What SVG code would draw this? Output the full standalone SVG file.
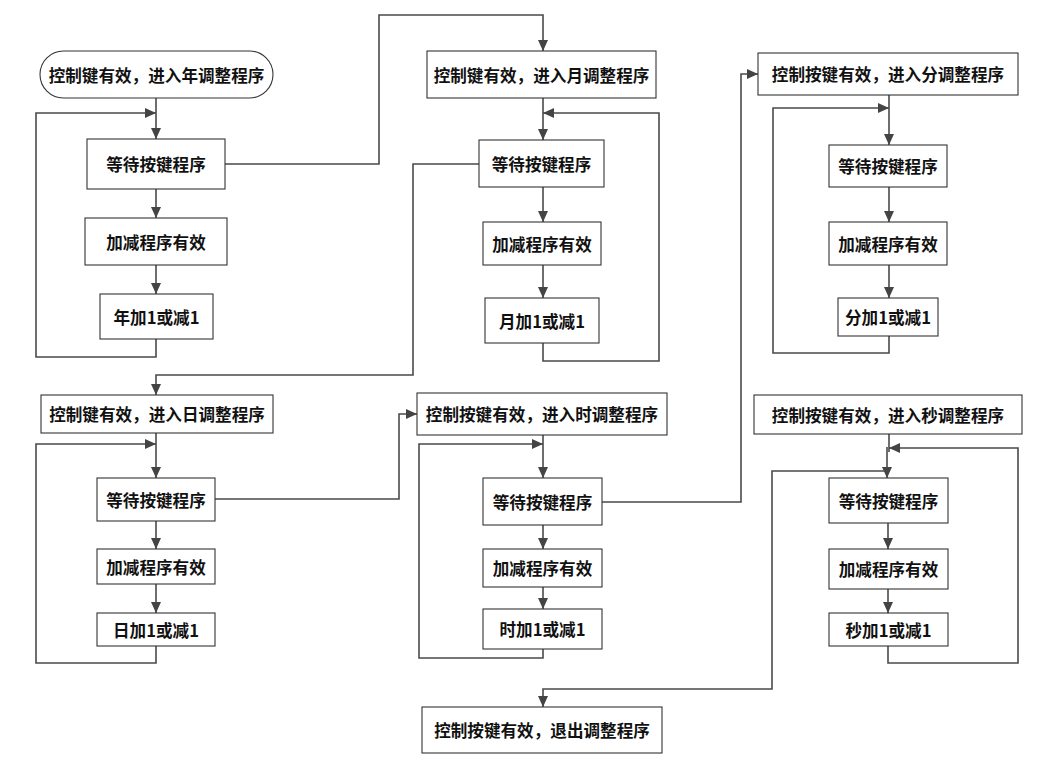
<svg xmlns="http://www.w3.org/2000/svg" width="1054" height="758" viewBox="0 0 1054 758">
<style>
.n rect{fill:#fff;stroke:#333;stroke-width:1.1}
.n text{font-family:"Noto Sans CJK SC","Noto Sans",sans-serif;font-size:16.6px;font-weight:bold;fill:#111;text-anchor:middle;dominant-baseline:central}
#connectors path{fill:none;stroke:#4a4a4a;stroke-width:1.6}
#connectors path.a{marker-end:url(#arr)}
</style>
<defs>
<marker id="arr" markerUnits="userSpaceOnUse" markerWidth="11" markerHeight="10" refX="11" refY="5" orient="auto">
<path d="M0,0 L11,5 L0,10 z" fill="#444"/>
</marker>
</defs>
<rect width="1054" height="758" fill="#fff"/>
<g id="connectors">
<path class="a" d="M156 98 V139"/>
<path class="a" d="M156 189 V218"/>
<path class="a" d="M156 265 V294"/>
<path class="a" d="M156 339 V357 H36 V113 H156"/>
<path class="a" d="M225 164 H379 V15 H543 V51"/>
<path class="a" d="M543 98 V140"/>
<path class="a" d="M543 187 V222"/>
<path class="a" d="M543 265 V298"/>
<path class="a" d="M543 343 V361 H659 V113 H543"/>
<path class="a" d="M479 164 H413 V375 H156 V395"/>
<path class="a" d="M889 95 V145"/>
<path class="a" d="M889 187 V222"/>
<path class="a" d="M889 265 V298"/>
<path class="a" d="M889 336 V353 H773 V108 H889"/>
<path class="a" d="M156 433 V478"/>
<path class="a" d="M156 521 V549"/>
<path class="a" d="M156 584 V613"/>
<path class="a" d="M156 646 V663 H36 V444 H156"/>
<path class="a" d="M215 499 H399 V414 H417"/>
<path class="a" d="M543 435 V478"/>
<path class="a" d="M543 525 V549"/>
<path class="a" d="M543 587 V609"/>
<path class="a" d="M543 649 V658 H419 V444 H543"/>
<path class="a" d="M602 502 H741 V74 H758"/>
<path d="M889 434 V452"/>
<path class="a" d="M887 447 V478"/>
<path class="a" d="M888 523 V549"/>
<path class="a" d="M888 589 V613"/>
<path class="a" d="M888 646 V663 H1018 V448 H889"/>
<path class="a" d="M887 471 H772 V689 H543 V707"/>
</g>
<g id="start" class="n"><rect x="40" y="51" width="233" height="47" rx="23.5"/><text x="156.5" y="75">控制键有效，进入年调整程序</text></g>
<g id="y_wait" class="n"><rect x="87" y="139" width="138" height="50"/><text x="156" y="164">等待按键程序</text></g>
<g id="y_add" class="n"><rect x="85" y="218" width="142" height="47"/><text x="156" y="241.5">加减程序有效</text></g>
<g id="y_inc" class="n"><rect x="100" y="294" width="113" height="45"/><text x="156.5" y="316.5">年加1或减1</text></g>
<g id="m_enter" class="n"><rect x="427" y="51" width="229" height="47"/><text x="541.5" y="75">控制键有效，进入月调整程序</text></g>
<g id="m_wait" class="n"><rect x="479" y="140" width="125" height="47"/><text x="541.5" y="163.5">等待按键程序</text></g>
<g id="m_add" class="n"><rect x="483" y="222" width="118" height="43"/><text x="542" y="243.5">加减程序有效</text></g>
<g id="m_inc" class="n"><rect x="485" y="298" width="114" height="45"/><text x="542" y="320.5">月加1或减1</text></g>
<g id="min_enter" class="n"><rect x="758" y="53" width="260" height="42"/><text x="888" y="74">控制按键有效，进入分调整程序</text></g>
<g id="min_wait" class="n"><rect x="829" y="145" width="118" height="42"/><text x="888" y="166">等待按键程序</text></g>
<g id="min_add" class="n"><rect x="829" y="222" width="118" height="43"/><text x="888" y="243.5">加减程序有效</text></g>
<g id="min_inc" class="n"><rect x="838" y="298" width="100" height="38"/><text x="888" y="317">分加1或减1</text></g>
<g id="d_enter" class="n"><rect x="41" y="395" width="232" height="38"/><text x="157" y="414">控制键有效，进入日调整程序</text></g>
<g id="d_wait" class="n"><rect x="97" y="478" width="118" height="43"/><text x="156" y="499.5">等待按键程序</text></g>
<g id="d_add" class="n"><rect x="97" y="549" width="118" height="35"/><text x="156" y="566.5">加减程序有效</text></g>
<g id="d_inc" class="n"><rect x="97" y="613" width="118" height="33"/><text x="156" y="629.5">日加1或减1</text></g>
<g id="h_enter" class="n"><rect x="417" y="393" width="250" height="42"/><text x="542" y="414">控制按键有效，进入时调整程序</text></g>
<g id="h_wait" class="n"><rect x="483" y="478" width="119" height="47"/><text x="542.5" y="501.5">等待按键程序</text></g>
<g id="h_add" class="n"><rect x="483" y="549" width="119" height="38"/><text x="542.5" y="568">加减程序有效</text></g>
<g id="h_inc" class="n"><rect x="483" y="609" width="119" height="40"/><text x="542.5" y="629">时加1或减1</text></g>
<g id="s_enter" class="n"><rect x="754" y="395" width="268" height="39"/><text x="888" y="414.5">控制按键有效，进入秒调整程序</text></g>
<g id="s_wait" class="n"><rect x="829" y="478" width="119" height="45"/><text x="888.5" y="500.5">等待按键程序</text></g>
<g id="s_add" class="n"><rect x="829" y="549" width="119" height="40"/><text x="888.5" y="569">加减程序有效</text></g>
<g id="s_inc" class="n"><rect x="829" y="613" width="119" height="33"/><text x="888.5" y="629.5">秒加1或减1</text></g>
<g id="exit" class="n"><rect x="422" y="707" width="240" height="46"/><text x="542" y="730">控制按键有效，退出调整程序</text></g>
</svg>
